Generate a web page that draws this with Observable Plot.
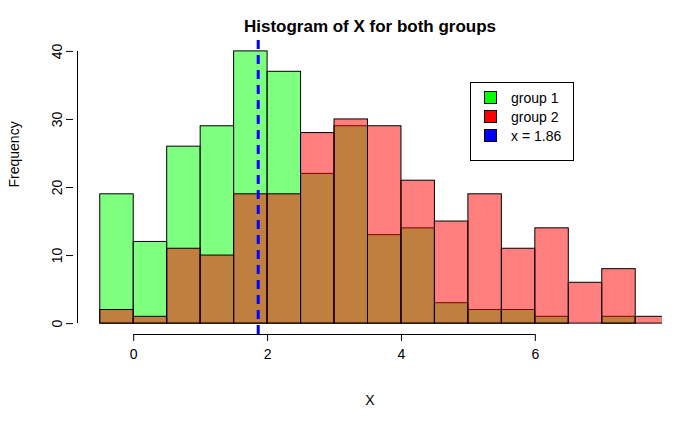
<!DOCTYPE html>
<html><head><meta charset="utf-8">
<script src="https://cdn.jsdelivr.net/npm/d3@7"></script>
<script src="https://cdn.jsdelivr.net/npm/@observablehq/plot@0.6"></script>
<style>
body{margin:0;background:#fff;font-family:Arial,"Liberation Sans",sans-serif}
#wrap{position:relative;width:700px;height:432px}
.lg{position:absolute;left:470px;top:82px;width:102px;height:77px;border:1px solid #000;background:#fff;font-size:14px}
.lg div{display:flex;align-items:center;height:21px;margin-left:13px;margin-top:4px}
.lg span{display:inline-block;width:11px;height:11px;border:1px solid #000;margin-right:14px}
</style></head><body>
<div id="wrap"><div id="chart"></div>
<div class="lg">
<div><span style="background:#00ff00"></span>group 1</div>
<div style="margin-top:-2px"><span style="background:#ff0000"></span>group 2</div>
<div style="margin-top:-2px"><span style="background:#0000ff"></span>x = 1.86</div>
</div></div>
<script>
const binStarts = [-0.5,0,0.5,1,1.5,2,2.5,3,3.5,4,4.5,5,5.5,6,6.5,7,7.5]
const group1 = [19,12,26,29,40,37,22,29,13,14,3,2,2,1,0,1,0]
const group2 = [2,1,11,10,19,19,28,30,29,21,15,19,11,14,6,8,1]
const cutoff = 1.86
const xTicks = [0,2,4,6]
const yTicks = [0,10,20,30,40]

const rows = (vals) => binStarts.map((s,i) => ({x1:s, x2:s+0.5, y:vals[i]})).filter(d => d.y > 0)

const chart = Plot.plot({
  width: 700, height: 432,
  marginLeft: 77, marginRight: 38, marginTop: 40, marginBottom: 98,
  x: {domain: [-0.84, 7.9]},
  y: {domain: [-1.6, 41.6]},
  style: {fontSize: '14px', fontFamily: 'Arial, Liberation Sans, sans-serif', color: '#000'},
  marks: [
    Plot.rectY(rows(group1), {x1:'x1', x2:'x2', y:'y', fill:'#00ff00', fillOpacity:0.5, stroke:'#000', strokeWidth:1, clip:true}),
    Plot.rectY(rows(group2), {x1:'x1', x2:'x2', y:'y', fill:'#ff0000', fillOpacity:0.5, stroke:'#000', strokeWidth:1, clip:true}),
    Plot.ruleX([cutoff], {stroke:'#0000ff', strokeWidth:3, strokeDasharray:'9,6'}),
    Plot.axisX({ticks:xTicks, tickSize:7, tickPadding:8, label:null, fontSize:14}),
    Plot.ruleY([-1.6], {x1:xTicks[0], x2:xTicks[xTicks.length-1], stroke:'#000'}),
    Plot.axisY({ticks:yTicks, tickSize:7, tickPadding:5, tickRotate:-90, label:null, fontSize:14, textAnchor:'middle', dx:-4}),
    Plot.ruleX([-0.84], {y1:yTicks[0], y2:yTicks[yTicks.length-1], stroke:'#000'}),
    Plot.text(['Histogram of X for both groups'], {frameAnchor:'top', dy:-21, fontWeight:'bold', fontSize:17}),
    Plot.text(['X'], {frameAnchor:'bottom', dy:70, fontSize:14}),
    Plot.text(['Frequency'], {frameAnchor:'left', dx:-63, rotate:-90, fontSize:14})
  ]
})
d3.select('#chart').append(() => chart)
</script></body></html>
